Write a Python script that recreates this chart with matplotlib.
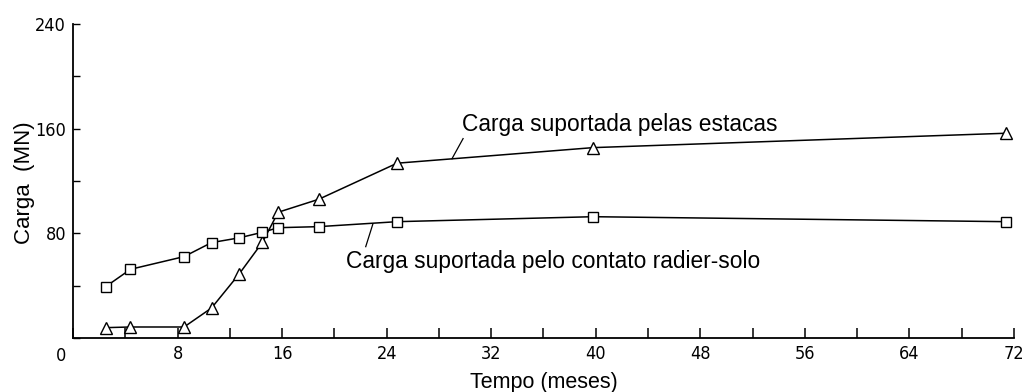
import numpy as np
import matplotlib
matplotlib.use("Agg")
import matplotlib.pyplot as plt
from matplotlib.ticker import MultipleLocator, FixedLocator

# time (months) and load (MN)
tempo = [2.5, 4.4, 8.5, 10.6, 12.7, 14.5, 15.7, 18.8, 24.8, 39.8, 71.4]
carga_estacas = [7.9, 8.4, 8.4, 22.9, 48.7, 73.2, 96.1, 106.0, 133.6, 145.5, 156.5]
carga_radier = [39.2, 52.5, 62.2, 72.9, 76.5, 80.8, 84.3, 85.1, 88.9, 92.7, 88.9]

x_ticks = [8, 16, 24, 32, 40, 48, 56, 64, 72]
y_ticks = [80, 160, 240]

label_estacas = "Carga suportada pelas estacas"
label_radier = "Carga suportada pelo contato radier-solo"

txt_font = ["Liberation Sans", "DejaVu Sans"]
num_font = ["DejaVu Sans"]

fig = plt.figure(figsize=(10.25, 3.92), dpi=100)
ax = fig.add_axes([0.0712, 0.1378, 0.918, 0.801])

# series
ax.plot(tempo, carga_estacas, color="black", lw=1.1, marker="^",
        ms=9, mfc="white", mec="black", mew=1.0)
ax.plot(tempo, carga_radier, color="black", lw=1.1, marker="s",
        ms=7, mfc="white", mec="black", mew=1.0)

ax.set_xlim(0, 72)
ax.set_ylim(0, 240)

# axes style
for s in ["top", "right"]:
    ax.spines[s].set_visible(False)
for s in ["left", "bottom"]:
    ax.spines[s].set_linewidth(1.3)

ax.xaxis.set_major_locator(FixedLocator(x_ticks))
ax.xaxis.set_minor_locator(MultipleLocator(4))
ax.yaxis.set_major_locator(FixedLocator(y_ticks))
ax.yaxis.set_minor_locator(MultipleLocator(40))
ax.tick_params(axis="x", which="both", direction="in", length=7, width=1.1, pad=5)
ax.tick_params(axis="y", which="both", direction="in", length=5, width=1.0, pad=5)
ax.set_xticklabels([str(v) for v in x_ticks])
ax.set_yticklabels([str(v) for v in y_ticks])
for lab in ax.get_xticklabels() + ax.get_yticklabels():
    lab.set_fontfamily(num_font)
    lab.set_fontstretch("condensed")
    lab.set_fontsize(13)

# shared origin label
ax.text(-0.9, -7.0, "0", ha="center", va="top",
        fontfamily=num_font, fontstretch="condensed", fontsize=13)

ax.set_xlabel("Tempo (meses)", fontfamily=txt_font, fontsize=15.5)
ax.xaxis.set_label_coords(0.5, -0.108)
ax.set_ylabel("Carga  (MN)", fontfamily=txt_font, fontsize=16)
ax.yaxis.set_label_coords(-0.040, 0.494)

# annotations with leader lines
ax.text(29.8, 158.5, label_estacas, fontfamily=txt_font, fontsize=16.4,
        ha="left", va="baseline")
ax.plot([29.85, 29.0], [152.4, 137.0], color="black", lw=0.9)

ax.text(20.9, 53.3, label_radier, fontfamily=txt_font, fontsize=16.4,
        ha="left", va="baseline")
ax.plot([22.4, 22.95], [69.8, 87.2], color="black", lw=0.9)

fig.savefig("out.png", dpi=100)
